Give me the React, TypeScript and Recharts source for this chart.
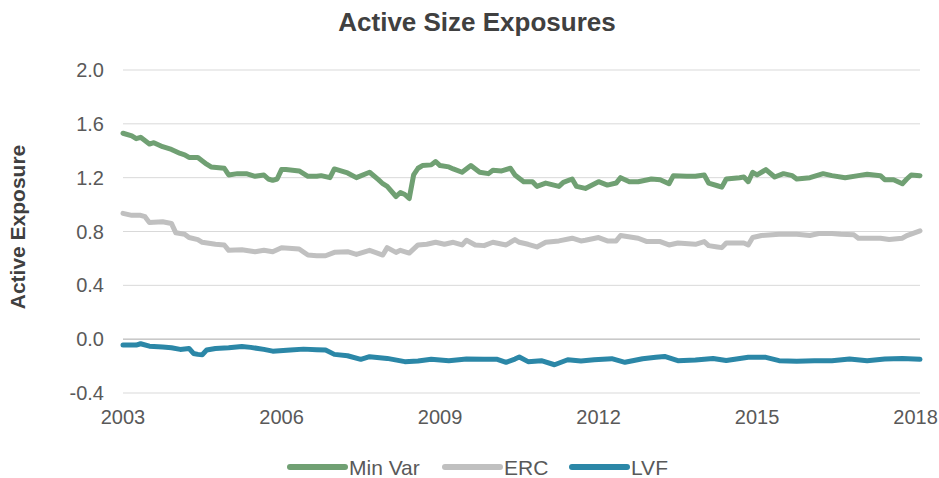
import React from 'react';
import { LineChart, Line, XAxis, YAxis, CartesianGrid, ReferenceLine } from 'recharts';

// month index from Jan 2003
const minVarMonths = [0,2,3,4,6,7,9,11,13,14,15,17,19,20,23,24,26,28,30,32,33,34,35,36,37,40,42,44,45,47,48,51,53,56,58,59,60,62,63,64,65,66,67,68,70,71,72,74,75,77,79,81,83,84,86,88,89,91,93,94,96,99,100,102,103,105,108,110,112,113,115,117,120,122,124,125,128,130,132,133,135,136,137,140,141,142,143,144,146,148,150,152,153,156,159,161,164,167,169,172,173,175,177,178,179,181];
const minVarValues = [1.53,1.51,1.49,1.50,1.45,1.46,1.43,1.41,1.38,1.37,1.35,1.35,1.30,1.28,1.27,1.22,1.23,1.23,1.21,1.22,1.19,1.18,1.19,1.26,1.26,1.25,1.21,1.21,1.215,1.20,1.265,1.235,1.20,1.24,1.185,1.155,1.135,1.06,1.09,1.075,1.045,1.22,1.27,1.29,1.295,1.32,1.29,1.28,1.265,1.24,1.29,1.24,1.23,1.255,1.25,1.27,1.22,1.17,1.17,1.135,1.16,1.135,1.165,1.19,1.135,1.12,1.17,1.145,1.16,1.20,1.17,1.17,1.19,1.185,1.155,1.215,1.21,1.21,1.22,1.16,1.14,1.13,1.19,1.20,1.205,1.17,1.24,1.22,1.26,1.205,1.23,1.215,1.19,1.20,1.23,1.215,1.20,1.215,1.225,1.215,1.185,1.185,1.155,1.19,1.22,1.215];

const ercMonths = [0,2,4,5,6,9,11,12,14,15,17,18,21,23,24,27,30,32,34,36,40,42,44,46,48,51,53,56,59,60,62,63,65,67,69,71,73,75,77,78,80,82,84,87,89,90,92,94,96,99,102,104,105,108,110,112,113,117,119,122,124,126,130,132,133,135,136,137,141,142,143,145,149,153,156,158,161,163,166,167,170,172,174,177,178,181];
const ercValues = [0.935,0.92,0.92,0.91,0.866,0.873,0.86,0.79,0.78,0.755,0.74,0.72,0.705,0.70,0.66,0.665,0.65,0.66,0.65,0.68,0.67,0.625,0.62,0.62,0.645,0.65,0.63,0.66,0.625,0.68,0.645,0.66,0.64,0.70,0.705,0.72,0.705,0.72,0.70,0.735,0.70,0.695,0.72,0.70,0.74,0.72,0.705,0.685,0.72,0.73,0.75,0.73,0.735,0.755,0.73,0.73,0.77,0.75,0.725,0.725,0.70,0.715,0.705,0.725,0.695,0.685,0.68,0.715,0.715,0.70,0.755,0.77,0.78,0.78,0.77,0.785,0.785,0.78,0.775,0.75,0.75,0.75,0.74,0.75,0.77,0.805];

const lvfMonths = [0,3,4,6,9,11,13,15,16,17,18,19,21,24,27,29,32,34,38,41,44,46,48,51,54,56,60,64,67,70,74,78,82,85,87,89,90,92,95,98,101,104,107,111,114,118,121,123,126,130,134,137,142,146,149,153,157,161,165,169,173,177,181];
const lvfValues = [-0.044,-0.044,-0.034,-0.052,-0.059,-0.064,-0.076,-0.069,-0.106,-0.113,-0.115,-0.081,-0.069,-0.064,-0.054,-0.061,-0.076,-0.089,-0.081,-0.074,-0.078,-0.081,-0.113,-0.123,-0.15,-0.13,-0.143,-0.167,-0.162,-0.15,-0.16,-0.148,-0.15,-0.15,-0.172,-0.148,-0.133,-0.167,-0.16,-0.19,-0.153,-0.162,-0.153,-0.145,-0.172,-0.145,-0.135,-0.128,-0.16,-0.155,-0.143,-0.158,-0.135,-0.135,-0.16,-0.165,-0.16,-0.16,-0.148,-0.16,-0.148,-0.143,-0.15];

const xTickMonths = [0, 36, 72, 108, 144, 180];
const xTickLabels = ['2003', '2006', '2009', '2012', '2015', '2018'];
const yTicks = [-0.4, 0, 0.4, 0.8, 1.2, 1.6, 2.0];

const seriesNames = ['Min Var', 'ERC', 'LVF'];
const seriesColors = ['#70a073', '#c0c0c0', '#2b87a7'];

const toPoints = (months: number[], values: number[]) =>
  months.map((m, i) => ({ m, v: values[i] }));

const minVarData = toPoints(minVarMonths, minVarValues);
const ercData = toPoints(ercMonths, ercValues);
const lvfData = toPoints(lvfMonths, lvfValues);
const seriesData = [minVarData, ercData, lvfData];

const FONT = '"Liberation Sans", Arial, sans-serif';

const legendX = [290, 445, 572];

export default function App() {
  return (
    <div style={{ position: 'absolute', left: 0, top: 0, width: 939, height: 478, background: '#fff', fontFamily: FONT }}>
      <LineChart
        width={939}
        height={478}
        margin={{ top: 70, right: 19, left: 0, bottom: 55 }}
        style={{ fontFamily: FONT }}
      >
        <CartesianGrid vertical={false} stroke="#d9d9d9" strokeWidth={1} />
        <XAxis
          type="number"
          dataKey="m"
          domain={[0, 181]}
          ticks={xTickMonths}
          tickFormatter={(m: number) => xTickLabels[xTickMonths.indexOf(m)]}
          axisLine={false}
          tickLine={false}
          tickSize={0}
          tickMargin={17}
          height={30}
          tick={{ fill: '#595959', fontSize: 20, fontFamily: FONT }}
          allowDuplicatedCategory={false}
        />
        <YAxis
          type="number"
          domain={[-0.4, 2.0]}
          ticks={yTicks}
          tickFormatter={(v: number) => v.toFixed(1)}
          axisLine={false}
          tickLine={false}
          tickSize={0}
          tickMargin={19}
          width={123}
          tick={{ fill: '#595959', fontSize: 20, fontFamily: FONT }}
        />
        <ReferenceLine y={0} stroke="#c9c9c9" strokeWidth={1.5} />
        {seriesData.map((d, i) => (
          <Line
            key={seriesNames[i]}
            data={d}
            dataKey="v"
            name={seriesNames[i]}
            type="linear"
            stroke={seriesColors[i]}
            strokeWidth={5}
            dot={false}
            activeDot={false}
            isAnimationActive={false}
            strokeLinejoin="round"
            strokeLinecap="round"
          />
        ))}
      </LineChart>
      <svg width={939} height={478} style={{ position: 'absolute', left: 0, top: 0, pointerEvents: 'none' }}>
        <text x={477} y={31} textAnchor="middle" fontSize={26} fontWeight="bold" fill="#404040" fontFamily={FONT}>
          Active Size Exposures
        </text>
        <text
          x={0}
          y={0}
          transform="translate(25,227) rotate(-90)"
          textAnchor="middle"
          fontSize={21}
          fontWeight="bold"
          fill="#404040"
          fontFamily={FONT}
        >
          Active Exposure
        </text>
        {seriesNames.map((n, i) => (
          <g key={n}>
            <line x1={legendX[i]} x2={legendX[i] + 55} y1={467} y2={467} stroke={seriesColors[i]} strokeWidth={6} strokeLinecap="round" />
            <text x={legendX[i] + 59} y={475} fontSize={21} fill="#595959" fontFamily={FONT}>
              {n}
            </text>
          </g>
        ))}
      </svg>
    </div>
  );
}
